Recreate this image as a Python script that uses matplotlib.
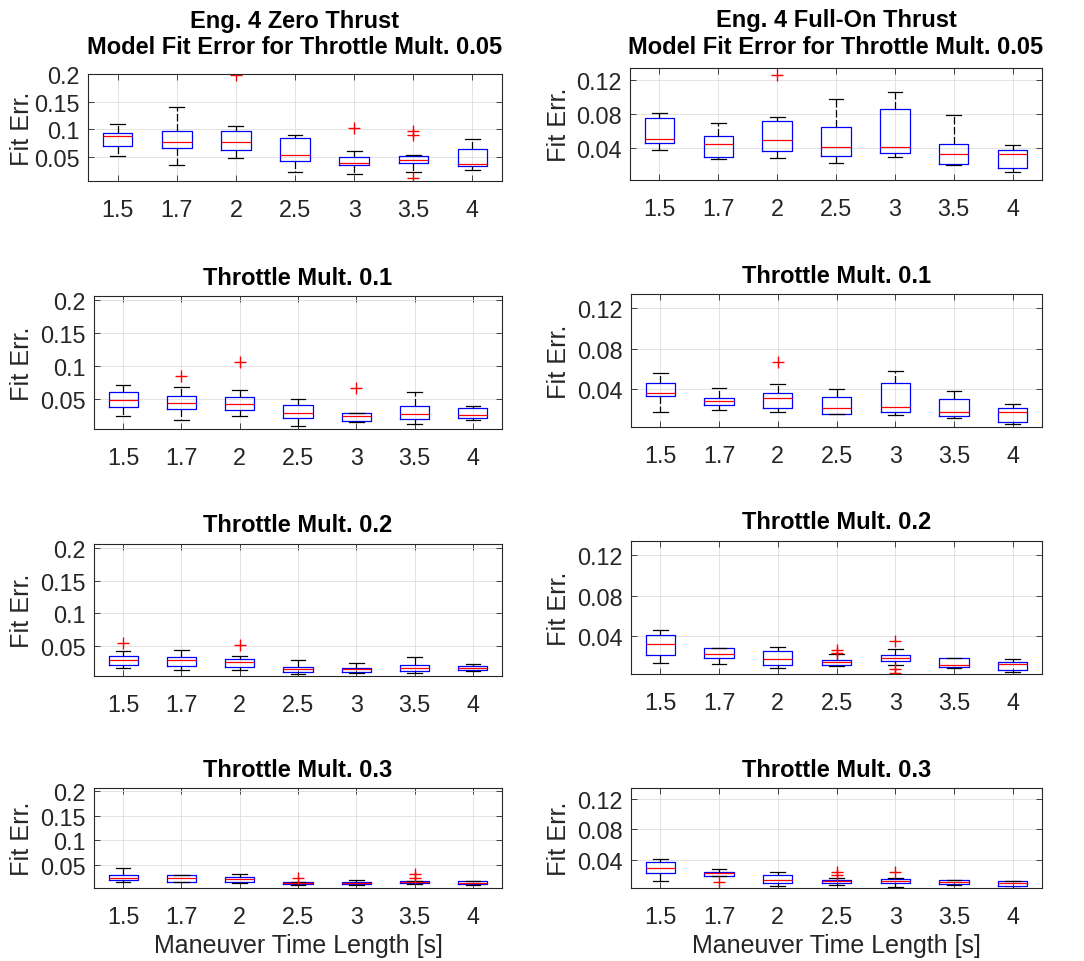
import numpy as np
import matplotlib
matplotlib.use("Agg")
import matplotlib.pyplot as plt
import matplotlib.transforms as mtransforms

plt.rcParams['font.family'] = ['Liberation Sans', 'DejaVu Sans']

time_labels = ['1.5', '1.7', '2', '2.5', '3', '3.5', '4']

# box rows: whisker low, Q1, median, Q3, whisker high (one column per maneuver length)
zero_005 = [[0.0518, 0.0354, 0.0482, 0.0227, 0.0178, 0.0215, 0.0251],
            [0.0694, 0.0652, 0.0621, 0.0415, 0.0342, 0.0385, 0.0336],
            [0.0883, 0.0761, 0.0773, 0.0530, 0.0379, 0.0433, 0.0372],
            [0.0925, 0.0968, 0.0961, 0.0846, 0.0500, 0.0518, 0.0634],
            [0.1095, 0.1405, 0.1053, 0.0895, 0.0603, 0.0530, 0.0816]]
zero_005_out = {2: [0.1988], 4: [0.1016], 5: [0.0968, 0.0895, 0.0117]}

full_005 = [[0.0377, 0.0272, 0.0291, 0.0225, 0.0299, 0.0202, 0.0124],
            [0.0466, 0.0299, 0.0369, 0.0311, 0.0346, 0.0217, 0.0175],
            [0.0513, 0.0447, 0.0497, 0.0419, 0.0416, 0.0334, 0.0334],
            [0.0757, 0.0544, 0.0722, 0.0652, 0.0862, 0.0454, 0.0384],
            [0.0812, 0.0695, 0.0765, 0.0979, 0.1056, 0.0788, 0.0435]]
full_005_out = {2: [0.1258]}

zero_01 = [[0.0238, 0.0177, 0.0233, 0.0090, 0.0141, 0.0121, 0.0182],
           [0.0372, 0.0346, 0.0321, 0.0203, 0.0162, 0.0187, 0.0203],
           [0.0485, 0.0433, 0.0423, 0.0290, 0.0238, 0.0269, 0.0249],
           [0.0597, 0.0546, 0.0526, 0.0408, 0.0280, 0.0382, 0.0356],
           [0.0715, 0.0674, 0.0628, 0.0495, 0.0280, 0.0603, 0.0382]]
zero_01_out = {1: [0.0844], 2: [0.1064], 4: [0.0659]}

full_01 = [[0.0182, 0.0202, 0.0179, 0.0159, 0.0152, 0.0122, 0.0056],
           [0.0334, 0.0245, 0.0218, 0.0162, 0.0175, 0.0136, 0.0079],
           [0.0360, 0.0284, 0.0311, 0.0218, 0.0231, 0.0175, 0.0179],
           [0.0463, 0.0317, 0.0367, 0.0321, 0.0463, 0.0301, 0.0218],
           [0.0562, 0.0417, 0.0456, 0.0407, 0.0579, 0.0383, 0.0255]]
full_01_out = {2: [0.0674]}

zero_02 = [[0.0163, 0.0132, 0.0132, 0.0069, 0.0080, 0.0090, 0.0121],
           [0.0204, 0.0199, 0.0183, 0.0100, 0.0095, 0.0111, 0.0126],
           [0.0292, 0.0287, 0.0251, 0.0147, 0.0142, 0.0163, 0.0158],
           [0.0339, 0.0334, 0.0298, 0.0183, 0.0168, 0.0210, 0.0194],
           [0.0417, 0.0443, 0.0339, 0.0282, 0.0246, 0.0324, 0.0220]]
zero_02_out = {0: [0.0542], 2: [0.0516]}

full_02 = [[0.0136, 0.0126, 0.0090, 0.0106, 0.0116, 0.0090, 0.0051],
           [0.0220, 0.0188, 0.0119, 0.0116, 0.0155, 0.0096, 0.0067],
           [0.0328, 0.0230, 0.0175, 0.0149, 0.0191, 0.0122, 0.0126],
           [0.0410, 0.0286, 0.0260, 0.0165, 0.0214, 0.0191, 0.0149],
           [0.0462, 0.0286, 0.0296, 0.0230, 0.0276, 0.0191, 0.0175]]
full_02_out = {3: [0.0269, 0.0237], 4: [0.0351, 0.0077, 0.0044]}

zero_03 = [[0.0169, 0.0155, 0.0142, 0.0108, 0.0101, 0.0115, 0.0108],
           [0.0196, 0.0169, 0.0169, 0.0122, 0.0122, 0.0135, 0.0128],
           [0.0250, 0.0243, 0.0230, 0.0142, 0.0142, 0.0162, 0.0149],
           [0.0311, 0.0297, 0.0264, 0.0162, 0.0169, 0.0182, 0.0176],
           [0.0446, 0.0304, 0.0318, 0.0169, 0.0196, 0.0189, 0.0182]]
zero_03_out = {3: [0.0243], 5: [0.0318, 0.0250]}

full_03 = [[0.0117, 0.0183, 0.0055, 0.0068, 0.0046, 0.0068, 0.0033],
           [0.0223, 0.0192, 0.0091, 0.0095, 0.0099, 0.0077, 0.0060],
           [0.0294, 0.0228, 0.0139, 0.0117, 0.0126, 0.0108, 0.0095],
           [0.0365, 0.0241, 0.0201, 0.0135, 0.0144, 0.0135, 0.0117],
           [0.0413, 0.0276, 0.0245, 0.0157, 0.0157, 0.0139, 0.0126]]
full_03_out = {1: [0.0113], 3: [0.0236, 0.0201], 4: [0.0245]}

left_ticks = [0.05, 0.1, 0.15, 0.2]
left_ticklabels = ['0.05', '0.1', '0.15', '0.2']
right_ticks = [0.04, 0.08, 0.12]
right_ticklabels = ['0.04', '0.08', '0.12']

W, H = 1084, 962
fig = plt.figure(figsize=(W / 100, H / 100), dpi=100)

# panel boxes in pixels: left, right, top, bottom
panels = [
    (zero_005, zero_005_out, 88, 502, 75, 182, 'Eng. 4 Zero Thrust\nModel Fit Error for Throttle Mult. 0.05', 'L', 15.0, (0.006, 0.2)),
    (full_005, full_005_out, 630, 1042, 69, 181, 'Eng. 4 Full-On Thrust\nModel Fit Error for Throttle Mult. 0.05', 'R', 11.0, (0.003, 0.134)),
    (zero_01, zero_01_out, 94, 502, 297, 430, 'Throttle Mult. 0.1', 'L', 8.3, (0.004, 0.206)),
    (full_01, full_01_out, 631, 1042, 295, 428, 'Throttle Mult. 0.1', 'R', 8.3, (0.003, 0.134)),
    (zero_02, zero_02_out, 94, 502, 545, 677, 'Throttle Mult. 0.2', 'L', 9.5, (0.004, 0.206)),
    (full_02, full_02_out, 631, 1042, 542, 675, 'Throttle Mult. 0.2', 'R', 9.0, (0.003, 0.134)),
    (zero_03, zero_03_out, 94, 502, 789, 889, 'Throttle Mult. 0.3', 'L', 8.3, (0.004, 0.206)),
    (full_03, full_03_out, 631, 1042, 789, 889, 'Throttle Mult. 0.3', 'R', 8.3, (0.003, 0.134)),
]

dark = '#262626'
for i, (box, out, l, r, t, b, title, side, tpad, ylim) in enumerate(panels):
    ax = fig.add_axes([l / W, 1 - b / H, (r - l) / W, (b - t) / H])
    stats = []
    for j in range(len(time_labels)):
        stats.append({'whislo': box[0][j], 'q1': box[1][j], 'med': box[2][j],
                      'q3': box[3][j], 'whishi': box[4][j],
                      'fliers': np.array(out.get(j, []))})
    ax.bxp(stats, positions=np.arange(1, 8), widths=0.5, capwidths=0.25,
           boxprops=dict(color='blue', lw=0.9),
           medianprops=dict(color='red', lw=0.9),
           whiskerprops=dict(color='black', lw=0.9, linestyle=(0, (6, 2))),
           capprops=dict(color='black', lw=0.9),
           flierprops=dict(marker='+', markeredgecolor='red', markersize=9,
                           markeredgewidth=1.0, linestyle='none'))
    ax.set_xlim(0.5, 7.5)
    ax.set_ylim(*ylim)
    ax.set_xticks(np.arange(1, 8))
    ax.set_xticklabels(time_labels)
    if side == 'L':
        ax.set_yticks(left_ticks)
        ax.set_yticklabels(left_ticklabels)
        lab_x = 22
    else:
        ax.set_yticks(right_ticks)
        ax.set_yticklabels(right_ticklabels)
        lab_x = 559
    ax.grid(True, color='#dedede', lw=0.6)
    ax.set_axisbelow(True)
    ax.tick_params(direction='in', top=True, right=True, length=4, width=0.6,
                   color=dark, labelcolor=dark, labelsize=16.8)
    ax.tick_params(axis='x', pad=12)
    ax.tick_params(axis='y', pad=6)
    for sp in ax.spines.values():
        sp.set_color(dark)
        sp.set_linewidth(0.8)
    ax.set_title(title, fontsize=17, fontweight='bold', pad=tpad, linespacing=1.2)
    ax.set_ylabel('Fit Err.', fontsize=18.2, color=dark, va='center')
    ax.yaxis.set_label_coords(lab_x / W, 0.5,
                              transform=mtransforms.blended_transform_factory(fig.transFigure, ax.transAxes))
    if i >= 6:
        ax.set_xlabel('Maneuver Time Length [s]', fontsize=18, color=dark, labelpad=4)

fig.savefig('out.png', dpi=100)
